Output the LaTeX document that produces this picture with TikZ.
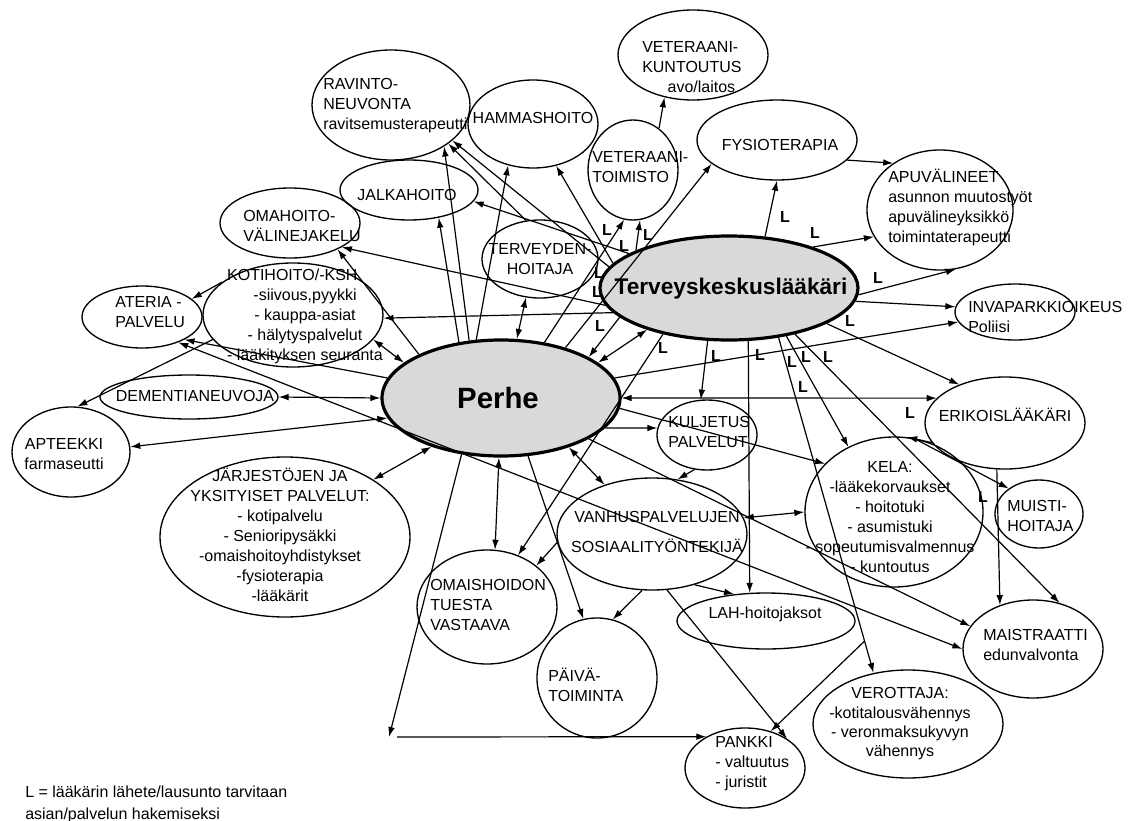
\documentclass[tikz,border=0pt]{standalone}
\usepackage{fontspec}
\setmainfont{Liberation Sans}
\usetikzlibrary{shapes.geometric,arrows.meta}

\begin{document}
\begin{tikzpicture}[x=0.75pt, y=-0.75pt,
  font=\fontsize{12}{15}\selectfont,
  palvelu/.style={ellipse, draw=black, line width=1pt, inner sep=0pt},
  keskus/.style={ellipse, draw=black, line width=2.4pt, fill=black!15, inner sep=0pt},
  txt/.style={inner sep=0pt, align=center},
  txtl/.style={inner sep=0pt, align=left, anchor=west},
  lbl/.style={inner sep=0pt, font=\fontsize{12}{14}\selectfont\bfseries},
  yht/.style={line width=0.9pt, -{Latex[length=7.5pt,width=5pt]}},
  yht2/.style={line width=0.9pt, {Latex[length=7.5pt,width=5pt]}-{Latex[length=7.5pt,width=5pt]}}]
\useasboundingbox (0,0) rectangle (1128,821);

% Keskukset
\node[keskus, minimum width=129*1.5pt, minimum height=52*1.5pt] (T) at (729,288) {};
\node[keskus, minimum width=119*1.5pt, minimum height=58*1.5pt] (P) at (501,398) {};

% Palvelut
\foreach \nimi/\px/\py/\rx/\ry in {RAV/391/105/79/55, HAM/533/124/65/44, VKU/693/55/75/45,
    VTO/633/170/45/50, FYS/777/140/80/40, APU/940/210/73/60, JAL/409/190/69/30,
    OMA/290/223/70/35, TH/540/259/58/39, ATE/142/317/60/31, KOT/293/315/90/52,
    DEM/189/397/89/22, APT/71/452/59/45, JAR/285/537/125/80, OMS/487/607/70/57,
    PAI/597/678/60/60, KUL/707/435/50/35, VAN/652/534/95/56, LAH/766/621/89/28,
    INV/1015/312/60/28, ERI/1005/423/80/46, KEL/894/512/89/75, MUI/1039/514/44/34,
    MAI/1033/649/70/49, VER/908/724/95/54, PAN/745/768/60/40} {
    \node[palvelu, minimum width=\rx*1.5pt, minimum height=\ry*1.5pt] (\nimi) at (\px,\py) {};
}

% Tekstit
\node[font=\fontsize{17}{20}\selectfont\bfseries, inner sep=0pt] (Tt) at (731,289) {Terveyskeskuslääkäri};
\node[font=\fontsize{22}{24}\selectfont\bfseries, inner sep=0pt] (Pt) at (498,398) {Perhe};
\node[txtl] (RAVt) at (323,106) {RAVINTO-\\NEUVONTA\\ravitsemusterapeutti};
\node[txt] (HAMt) at (533,118) {HAMMASHOITO};
\node[txtl] (VKUt) at (642,67) {VETERAANI-\\KUNTOUTUS\\\rule{19pt}{0pt}avo/laitos};
\node[txtl] (VTOt) at (592,167) {VETERAANI-\\TOIMISTO};
\node[txt] (FYSt) at (780,145) {FYSIOTERAPIA};
\node[txtl] (APUt) at (888,207) {APUVÄLINEET\\asunnon muutostyöt\\apuvälineyksikkö\\toimintaterapeutti};
\node[txt] (JALt) at (407,195) {JALKAHOITO};
\node[txtl] (OMAt) at (243,226) {OMAHOITO-\\VÄLINEJAKELU};
\node[txt] (THt) at (540,259) {TERVEYDEN-\\HOITAJA};
\node[txtl] (ATEt) at (115,312) {ATERIA -\\PALVELU};
\node[txt] (KOTt) at (305,316) {KOTIHOITO/-KSH\rule{19pt}{0pt}\\-siivous,pyykki\\- kauppa-asiat\\- hälytyspalvelut\\- lääkityksen seuranta};
\node[txt] (DEMt) at (195,396) {DEMENTIANEUVOJA};
\node[txt] (APTt) at (64,454) {APTEEKKI\\farmaseutti};
\node[txt] (JARt) at (280,535) {JÄRJESTÖJEN JA\\YKSITYISET PALVELUT:\\- kotipalvelu\\- Senioripysäkki\\-omaishoitoyhdistykset\\-fysioterapia\\-lääkärit};
\node[txtl] (OMSt) at (430,605) {OMAISHOIDON\\TUESTA\\VASTAAVA};
\node[txtl] (PAIt) at (548,685) {PÄIVÄ-\\TOIMINTA};
\node[txtl] (KULt) at (668,432) {KULJETUS\\PALVELUT};
\node[txt] (VANt) at (657,532) {VANHUSPALVELUJEN\\[7pt]SOSIAALITYÖNTEKIJÄ};
\node[txt] (LAHt) at (765,614) {LAH-hoitojaksot};
\node[txtl] (INVt) at (968,317) {INVAPARKKIOIKEUS\\Poliisi};
\node[txt] (ERIt) at (1005,415) {ERIKOISLÄÄKÄRI};
\node[txt] (KELt) at (890,517) {KELA:\\-lääkekorvaukset\\- hoitotuki\\- asumistuki\\- sopeutumisvalmennus\\- kuntoutus};
\node[txtl] (MUIt) at (1007,516) {MUISTI-\\HOITAJA};
\node[txtl] (MAIt) at (983,645) {MAISTRAATTI\\edunvalvonta};
\node[txt, font=\fontsize{12}{14.5}\selectfont] (VERt) at (900,724) {VEROTTAJA:\\-kotitalousvähennys\\- veronmaksukyvyn\\vähennys};
\node[txtl] (PANt) at (715,764) {PANKKI\\- valtuutus\\- juristit};
\node[txtl, font=\fontsize{12}{16.5}\selectfont] (selite) at (25,804) {L = lääkärin lähete/lausunto tarvitaan\\asian/palvelun hakemiseksi};

% Apupisteet
\path (T.-45) -- (VER.124) coordinate[pos=0.905] (vj);
\coordinate (pl) at (389,737);
\coordinate (pr) at (397,737);

% Yhteydet
\foreach \alku/\loppu in {T.170/RAV.-30, TH.110/RAV.-34, P.119/RAV.-38, P.113/HAM.-121,
    P.127/JAL.-43, T.161/JAL.-10, T.168/HAM.-61, P.152/OMA.-29, T.188/OMA.-25,
    T.192/KOT.-2, KOT.155/ATE.20, P.170/ATE.-28, KOT.197/APT.82, P.-16/KUL.172,
    KUL.-110/VAN.65, T.-112/KUL.100, T.-70/LAH.120, T.-45/VER.124, T.-40/KEL.125,
    T.-35/MAI.60, KEL.75/MUI.140, ERI.-100/MAI.127, ERI.195/KEL.80, T.-20/ERI.140,
    T.-6/INV.175, P.10/INV.190, T.26/APU.202, T.-3/APU.-75, T.55/FYS.-90,
    FYS.-16/APU.135, VTO.58/VKU.-124, T.158/VTO.-82, P.52/VTO.-100, P.38/FYS.-160,
    T.195/P.25, T.215/OMS.59, VAN.185/OMS.40, P.-65/PAI.103, VAN.-100/PAI.75,
    VAN.-50/LAH.140, VAN.-75/PAN.35, vj/PAN.55, P.-125/pl, pr/PAN.141,
    P.-5/KEL.145, P.-25/MAI.160}
    \draw[yht] (\alku) -- (\loppu);

\foreach \alku/\loppu in {P.75/TH.-110, P.160/KOT.-17, DEM.0/P.180, APT.5/P.190,
    JAR.33/P.215, P.268/OMS.82, P.-36/VAN.134, P.0/ERI.160, P.20/T.207,
    VAN.10/KEL.180, ATE.-35/MAI.180}
    \draw[yht2] (\alku) -- (\loppu);

% Lähete-merkinnät
\foreach \lx/\ly [count=\i] in {607/230, 648/235, 624/246, 599/273, 597/292, 600/326,
    785/217, 815/233, 878/278, 850/321, 663/348, 716/356, 760/355, 792/362, 803/387,
    806/357, 828/357, 910/413, 983/497}
    \node[lbl] (L\i) at (\lx,\ly) {L};

\end{tikzpicture}
\end{document}
